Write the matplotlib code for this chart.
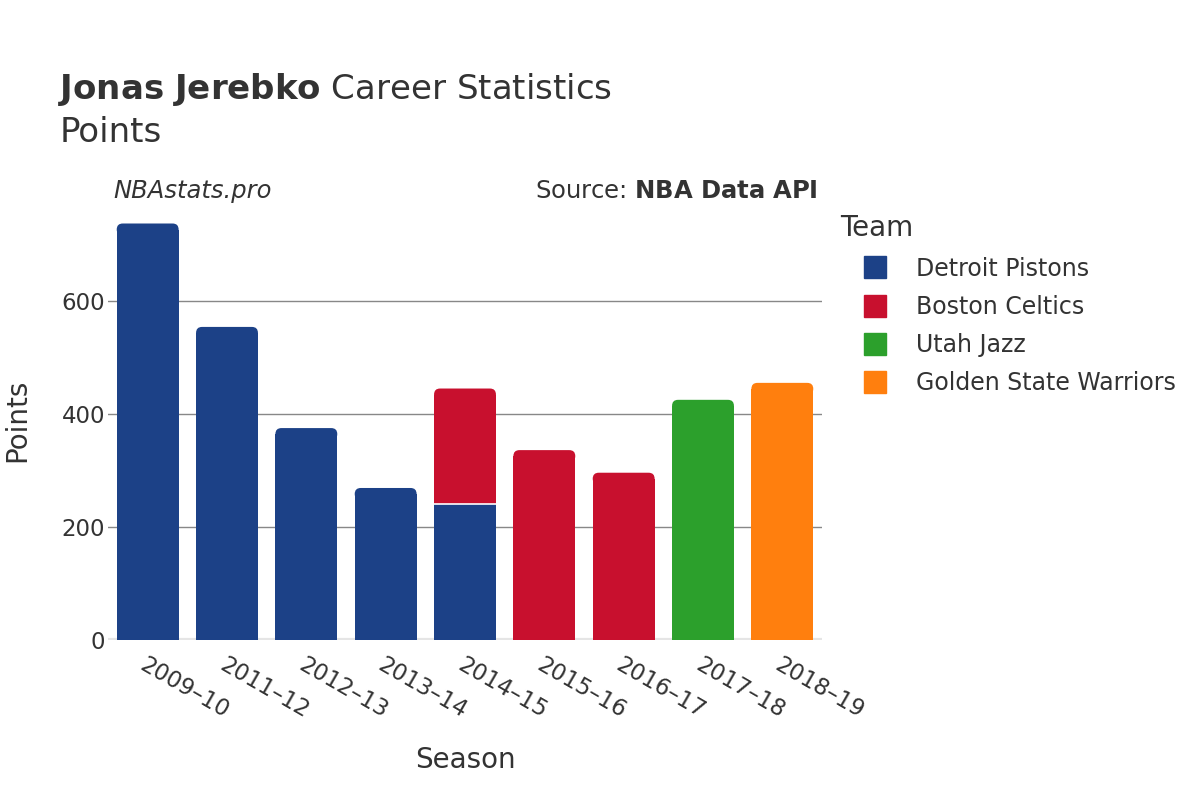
import matplotlib
matplotlib.use("Agg")
import matplotlib.pyplot as plt
from matplotlib.lines import Line2D
from matplotlib.patches import FancyBboxPatch
import numpy as np

seasons = ["2009–10", "2011–12", "2012–13", "2013–14", "2014–15", "2015–16", "2016–17", "2017–18", "2018–19"]
teams = ["Detroit Pistons", "Boston Celtics", "Utah Jazz", "Golden State Warriors"]
colors = ["#1c4187", "#c8102e", "#2ca02c", "#ff7f0e"]
detroit = [737, 554, 375, 269, 240, 0, 0, 0, 0]
boston = [0, 0, 0, 0, 205, 336, 296, 0, 0]
utah = [0, 0, 0, 0, 0, 0, 0, 425, 0]
gsw = [0, 0, 0, 0, 0, 0, 0, 0, 455]
series = [detroit, boston, utah, gsw]

plt.rcParams['font.family'] = ['DejaVu Sans']
fig = plt.figure(figsize=(12, 8), dpi=100)
ax = fig.add_axes([0.09, 0.2, 0.595, 0.551])
YMAX = 780
ax.set_xlim(-0.5, len(seasons) - 0.5)
ax.set_ylim(0, YMAX)

# pixel -> data conversions for rounding corners
ax_w_px = 0.595 * 1200
ax_h_px = 0.551 * 800
r_px = 6
r_x = r_px * len(seasons) / ax_w_px
r_y = r_px * YMAX / ax_h_px

x = np.arange(len(seasons))
arr = np.array(series, dtype=float)
totals = arr.sum(axis=0)
bottom = np.zeros(len(seasons))
for k, (vals, c) in enumerate(zip(series, colors)):
    v = np.array(vals, dtype=float)
    mask = v > 0
    bars = ax.bar(x[mask], v[mask], bottom=bottom[mask], width=0.78, color=c,
                  linewidth=0, zorder=3)
    idx = x[mask]
    for p, i in zip(bars.patches, idx):
        top = bottom[i] + v[i]
        if np.isclose(top, totals[i]):
            x0, y0, w, h = p.get_x(), p.get_y(), p.get_width(), p.get_height()
            p.set_height(h - r_y)
            cap = FancyBboxPatch((x0 + r_x, top - r_y), w - 2 * r_x, 0.0001,
                                 boxstyle=f"round,pad={r_x},rounding_size={r_x}",
                                 mutation_aspect=r_y / r_x, facecolor=c, edgecolor="none",
                                 linewidth=0, zorder=3)
            ax.add_patch(cap)
        else:
            # white separator on top of lower stacked segment
            ax.hlines(top, p.get_x(), p.get_x() + p.get_width(), colors="white",
                      linewidth=1.2, zorder=4)
    bottom += v

ax.set_yticks([0, 200, 400, 600])
ax.yaxis.grid(True, color="#888888", linewidth=1, zorder=0)
ax.axhline(0, color="#e5e5e5", linewidth=3, zorder=2)
for s in ax.spines.values():
    s.set_visible(False)
ax.tick_params(axis="y", length=0, labelsize=16.5, colors="#333333", pad=2)
ax.tick_params(axis="x", length=0, labelsize=16.5, colors="#333333", pad=10)
ax.set_xticks(x)
ax.set_xticklabels(seasons, rotation=-30, ha="left", rotation_mode="anchor")

fig.text(465/1200, 1 - 760/800, "Season", ha="center", va="center", fontsize=20, color="#333333")
fig.text(17/1200, 1 - 420/800, "Points", ha="center", va="center", fontsize=20, color="#333333", rotation=90)

fig.text(58/1200, 1 - 89/800, "$\\bf{Jonas\\ Jerebko}$ Career Statistics", fontsize=24.5, color="#333333", va="center")
fig.text(60/1200, 1 - 132/800, "Points", fontsize=24.5, color="#333333", va="center")
fig.text(113/1200, 1 - 191/800, "NBAstats.pro", fontsize=17.5, style="italic", color="#333333", va="center")
fig.text(818/1200, 1 - 191/800, "Source: $\\bf{NBA\\ Data\\ API}$", fontsize=17.5, color="#333333", va="center", ha="right")

handles = [Line2D([0], [0], marker="s", linestyle="none", markersize=16, markerfacecolor=c, markeredgecolor=c) for c in colors]
leg = fig.legend(handles, teams, title="Team", loc="upper left", bbox_to_anchor=(831/1200, 1 - 205/800),
                 frameon=False, fontsize=17, title_fontsize=20, labelspacing=0.6, handletextpad=0.3,
                 borderaxespad=0, handlelength=2.9)
leg._legend_box.align = "left"
for t in leg.get_texts():
    t.set_color("#333333")
leg.get_title().set_color("#333333")

fig.savefig("out.png", dpi=100, facecolor="white")
